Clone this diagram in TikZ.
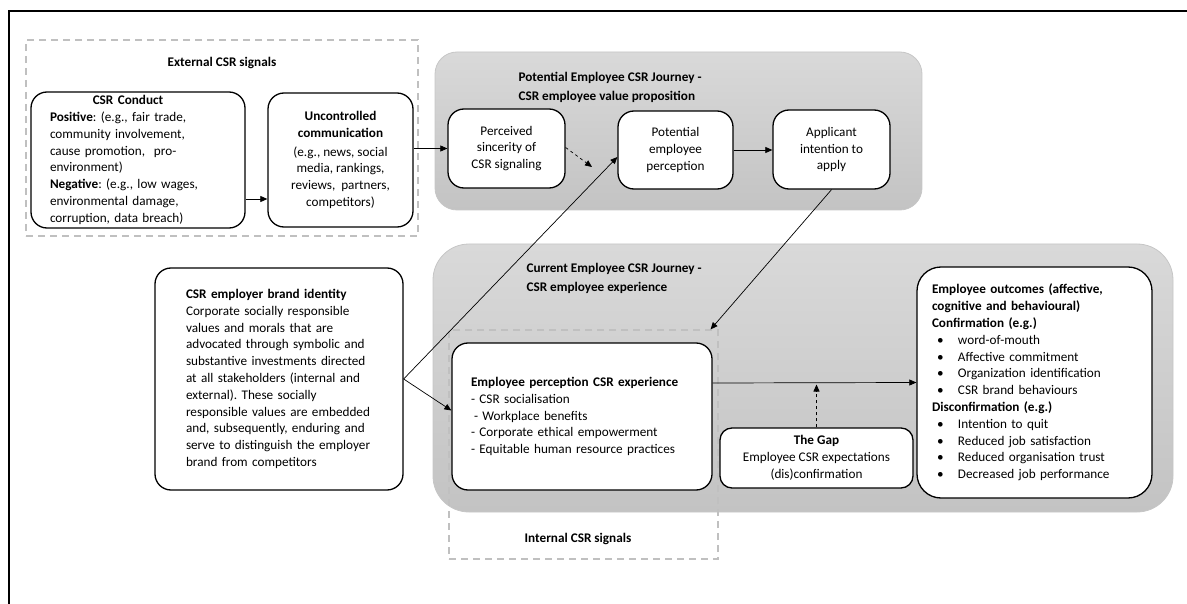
\documentclass[tikz,border=0pt]{standalone}
\usepackage{fontspec}
\setmainfont{Carlito}
\frenchspacing
\usetikzlibrary{arrows.meta}
\definecolor{signalgray}{RGB}{192,192,192}
\definecolor{journeytop}{RGB}{217,217,217}
\definecolor{journeybot}{RGB}{195,195,195}
\newcommand{\outbullet}{\makebox[26pt][l]{\hspace{5pt}\textbullet}}

\begin{document}
\begin{tikzpicture}[x=1pt, y=-1pt, font=\fontsize{13.2}{16.8}\selectfont,
    box/.style={draw, line width=1.3pt, rounded corners=16pt, fill=white, inner sep=0pt},
    journey/.style={draw=gray!45, line width=0.8pt, top color=journeytop, bottom color=journeybot, inner sep=0pt},
    signals/.style={draw=signalgray, line width=1.2pt, dash pattern=on 7pt off 5pt, inner sep=0pt},
    link/.style={-{Triangle[length=7pt,width=6pt]}, line width=0.7pt},
    hint/.style={link, dashed}]
    \useasboundingbox (0,0) rectangle (1187,604);

    % Journeys (grey backgrounds)
    \node[journey, rounded corners=36pt, minimum width=740pt, minimum height=268pt] (current) at (803,378) {};
    \node[journey, rounded corners=22pt, minimum width=487pt, minimum height=158pt] (potjourney) at (678.5,131) {};
    \node[anchor=west, align=left, font=\fontsize{13.2}{19}\selectfont\bfseries] (pottitle) at (515,87.5)
        {Potential Employee CSR Journey -\\CSR employee value proposition};
    \node[anchor=west, align=left, font=\fontsize{13.2}{19}\selectfont\bfseries] (curtitle) at (523,278.5)
        {Current Employee CSR Journey -\\CSR employee experience};

    % Signals (dashed frames)
    \node[signals, minimum width=392pt, minimum height=196pt] (extsig) at (222,138) {};
    \node[font=\fontsize{13.2}{16.8}\selectfont\bfseries] (extlabel) at (222,63) {External CSR signals};
    \node[signals, minimum width=269pt, minimum height=229pt] (intsig) at (583.5,444.5) {};
    \node[font=\fontsize{13.2}{16.8}\selectfont\bfseries] (intlabel) at (578,539) {Internal CSR signals};

    % External signals
    \node[box, text width=176pt, align=left, minimum width=214pt, minimum height=136pt] (conduct) at (138,160)
        {\makebox[156pt]{\textbf{CSR Conduct}}\\
         \textbf{Positive}: (e.g., fair trade,\\
         community involvement,\\
         cause promotion,\ \ pro-\\
         environment)\\
         \textbf{Negative}: (e.g., low wages,\\
         environmental damage,\\
         corruption, data breach)};
    \node[box, align=center, minimum width=145pt, minimum height=134pt] (uncontrolled) at (340.5,160)
        {\textbf{Uncontrolled}\\\textbf{communication}\\[2pt]
         (e.g., news, social\\media, rankings,\\reviews,\ \ partners,\\competitors)};

    % Potential employee journey
    \node[box, align=center, minimum width=117pt, minimum height=79pt] (sincerity) at (506.5,148.5)
        {Perceived\\sincerity of\\CSR signaling};
    \node[box, align=center, minimum width=115pt, minimum height=78pt] (potential) at (675.5,150)
        {Potential\\employee\\perception};
    \node[box, align=center, minimum width=117pt, minimum height=79pt] (applicant) at (831.5,149.5)
        {Applicant\\intention to\\apply};
    \coordinate (sincerityend) at (592,167);

    % Employer brand identity
    \node[box, text width=186pt, align=left, minimum width=248pt, minimum height=222pt] (brand) at (279,379)
        {\textbf{CSR employer brand identity}\\
         Corporate socially responsible\\
         values and morals that are\\
         advocated through symbolic and\\
         substantive investments directed\\
         at all stakeholders (internal and\\
         external). These socially\\
         responsible values are embedded\\
         and, subsequently, enduring and\\
         serve to distinguish the employer\\
         brand from competitors};

    % Current employee journey
    \node[box, text width=222pt, align=left, minimum width=260pt, minimum height=147pt] (perception) at (582,416.5)
        {\textbf{Employee perception CSR experience}\\
         - CSR socialisation\\
         \hspace{3pt}- Workplace benefits\\
         - Corporate ethical empowerment\\
         - Equitable human resource practices};
    \node[box, rounded corners=12pt, align=center, minimum width=193pt, minimum height=60pt] (gap) at (816.5,458)
        {\textbf{The Gap}\\Employee CSR expectations\\(dis)confirmation};
    \node[box, rounded corners=24pt, text width=205pt, align=left, minimum width=235pt, minimum height=231pt] (outcomes) at (1034.5,382.5)
        {\textbf{Employee outcomes (affective,}\\
         \textbf{cognitive and behavioural)}\\
         \textbf{Confirmation (e.g.)}\\
         \outbullet word-of-mouth\\
         \outbullet Affective commitment\\
         \outbullet Organization identification\\
         \outbullet CSR brand behaviours\\
         \textbf{Disconfirmation (e.g.)}\\
         \outbullet Intention to quit\\
         \outbullet Reduced job satisfaction\\
         \outbullet Reduced organisation trust\\
         \outbullet Decreased job performance};

    % Connectors
    \draw[link] ([yshift=-39pt]conduct.east) -- ([yshift=-39pt]uncontrolled.west);
    \draw[link] (uncontrolled.east |- sincerity.west) -- (sincerity.west);
    \draw[hint] ([yshift=1pt]sincerity.east) -- (sincerityend);
    \draw[link] (potential.east) -- (potential.east -| applicant.west);
    \draw[link] (brand.east) -- ([yshift=-7pt]potential.west);
    \draw[link] (brand.east) -- ([yshift=6pt]perception.west);
    \draw[link] (applicant.south) -- ([xshift=-8pt]intsig.north east);
    \draw[link] ([yshift=33.5pt]perception.east) -- (outcomes.west);
    \draw[hint, shorten >=2pt] (gap.north) -- (gap.north |- outcomes.west);

    % Frame
    \draw[line width=2pt] (9,604) -- (9,11) -- (1187,11);
\end{tikzpicture}
\end{document}
